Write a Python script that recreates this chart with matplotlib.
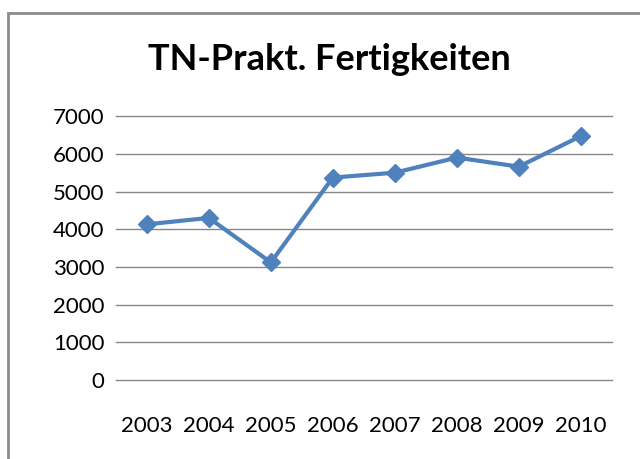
import matplotlib
matplotlib.use("Agg")
import matplotlib.pyplot as plt
from matplotlib.patches import Rectangle

years = ["2003", "2004", "2005", "2006", "2007", "2008", "2009", "2010"]
values = [4130, 4300, 3120, 5370, 5500, 5900, 5660, 6470]
y_ticks = [0, 1000, 2000, 3000, 4000, 5000, 6000, 7000]

plt.rcParams['font.family'] = ['Lato', 'DejaVu Sans']

fig = plt.figure(figsize=(6.4, 4.59), dpi=100)
ax = fig.add_axes([0.181, 0.172, 0.775, 0.575])

x = list(range(len(years)))
ax.plot(x, values, color='#4F81BD', linewidth=3, marker='D', markersize=9,
        markeredgecolor='#4F81BD', zorder=3)

ax.set_xlim(-0.5, len(years) - 0.5)
ax.set_ylim(0, 7000)
ax.set_yticks(y_ticks)
ax.set_xticks(x)
ax.set_xticklabels(years)
ax.yaxis.grid(True, color='#868686', linewidth=1)
for gl in ax.get_ygridlines():
    gl.set_clip_on(False)
ax.set_axisbelow(True)
for s in ax.spines.values():
    s.set_visible(False)
ax.tick_params(axis='both', length=0, labelsize=16, colors='#000000')
ax.tick_params(axis='x', pad=26)
ax.tick_params(axis='y', pad=8)

fig.text(0.515, 0.87, "TN-Prakt. Fertigkeiten", ha='center', va='center',
         fontsize=26, fontweight='bold')

# chart border, cut off at the right and bottom like the screenshot
fig.patches.append(Rectangle((8 / 640, -0.1), 1.2, 1 - 13 / 459 + 0.1,
                             transform=fig.transFigure, fill=False,
                             edgecolor='#8c8c8c', linewidth=2))

fig.savefig("out.png", dpi=100)
plt.close(fig)
